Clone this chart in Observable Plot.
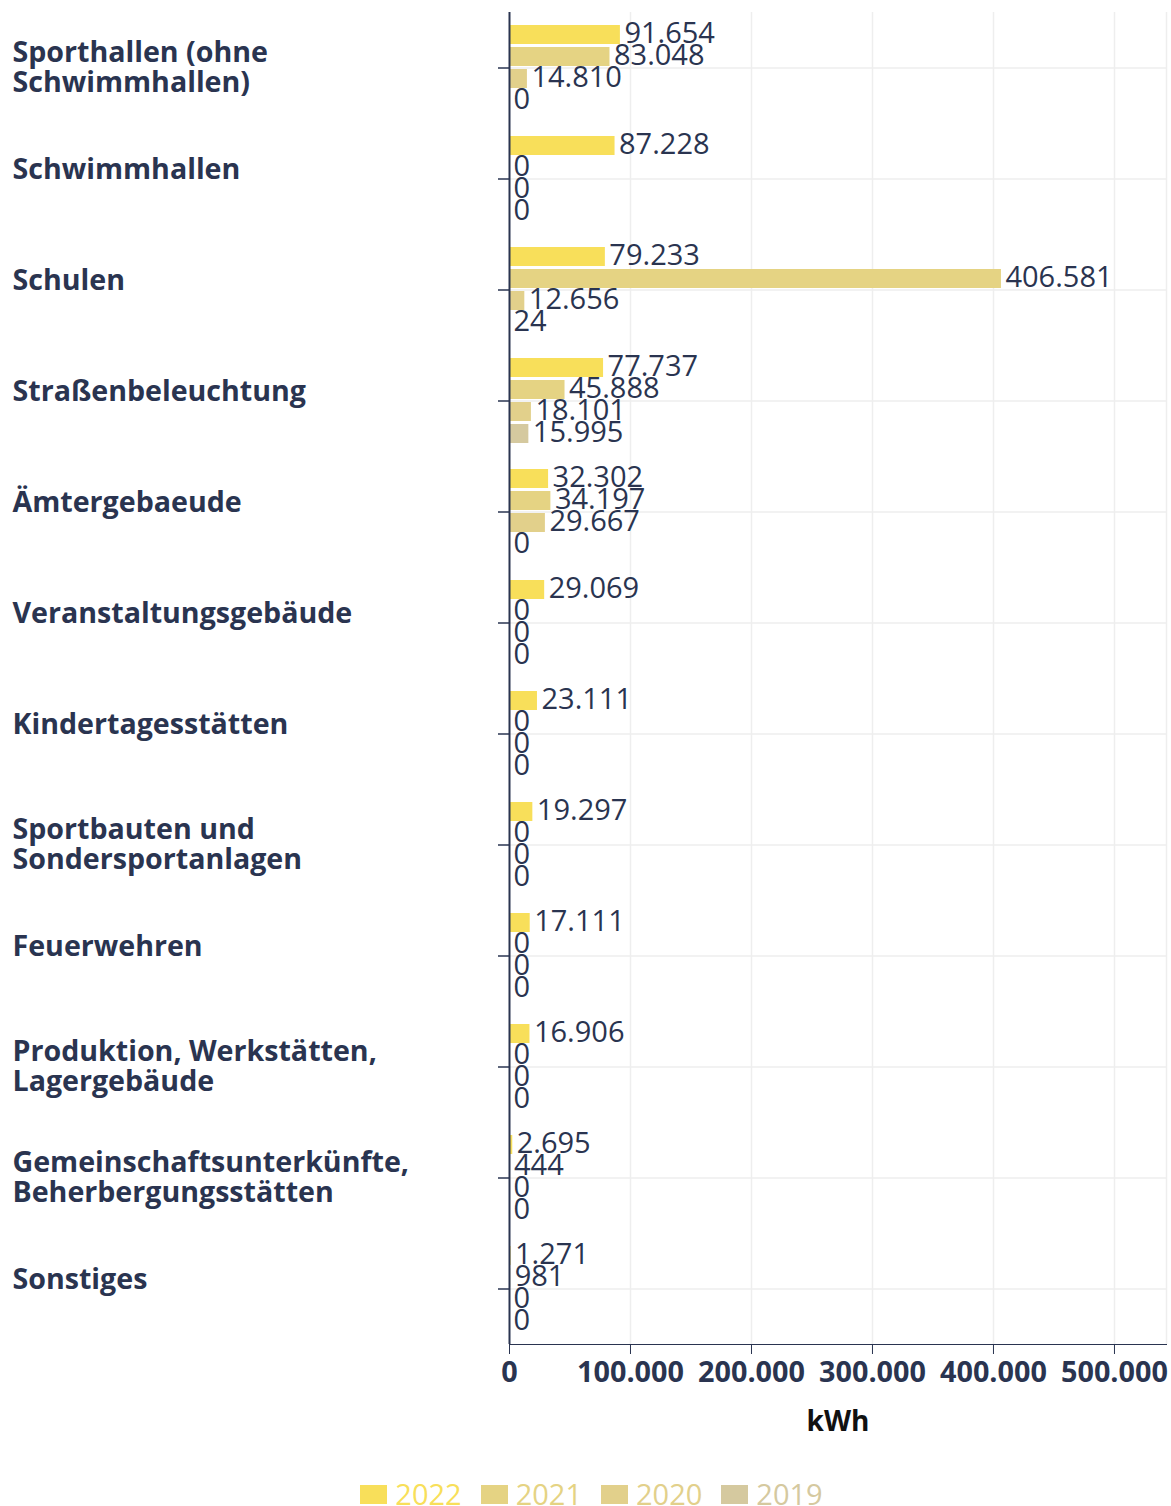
<!DOCTYPE html>
<html>
<head>
<meta charset="utf-8">
<script src="https://cdn.jsdelivr.net/npm/d3@7"></script>
<script src="https://cdn.jsdelivr.net/npm/@observablehq/plot@0.6"></script>
<style>
  html, body { margin: 0; padding: 0; background: #fff; }
  body { width: 1171px; height: 1506px; position: relative; overflow: hidden; font-family: "Open Sans", "Noto Sans", sans-serif; }
  #chart svg { font-family: "Open Sans", "Noto Sans", sans-serif; }
  #chart g[aria-label="x-axis tick label"] { font-weight: 700; font-size: 28.8px; }
  #chart g[aria-label="x-axis label"] { font-weight: 700; font-size: 28px; fill: #111; }
  #legend { position: absolute; left: 0; top: 1474px; width: 1171px; display: flex; justify-content: center; gap: 19px; padding-left: 12px; box-sizing: border-box; }
  .item { display: flex; align-items: center; gap: 8px; font-size: 29px; line-height: 40px; }
  .sw { width: 27px; height: 19px; display: inline-block; }
</style>
</head>
<body>
<div id="chart"></div>
<div id="legend"></div>
<script>
const categories = [
  "Sporthallen (ohne\nSchwimmhallen)",
  "Schwimmhallen",
  "Schulen",
  "Straßenbeleuchtung",
  "Ämtergebaeude",
  "Veranstaltungsgebäude",
  "Kindertagesstätten",
  "Sportbauten und\nSondersportanlagen",
  "Feuerwehren",
  "Produktion, Werkstätten,\nLagergebäude",
  "Gemeinschaftsunterkünfte,\nBeherbergungsstätten",
  "Sonstiges"
];
const years = ["2022", "2021", "2020", "2019"];
const values2022 = [91654, 87228, 79233, 77737, 32302, 29069, 23111, 19297, 17111, 16906, 2695, 1271];
const values2021 = [83048, 0, 406581, 45888, 34197, 0, 0, 0, 0, 0, 444, 981];
const values2020 = [14810, 0, 12656, 18101, 29667, 0, 0, 0, 0, 0, 0, 0];
const values2019 = [0, 0, 24, 15995, 0, 0, 0, 0, 0, 0, 0, 0];
const xTicks = [0, 100000, 200000, 300000, 400000, 500000];
const colors = ["#f8df5a", "#e5d383", "#e2d08b", "#d5c99f"];
const navy = "#2a3450";

const series = {"2022": values2022, "2021": values2021, "2020": values2020, "2019": values2019};
const rows = [];
categories.forEach((c, i) => years.forEach(y => rows.push({cat: c, year: y, value: series[y][i]})));

const de = d3.formatLocale({decimal: ",", thousands: ".", grouping: [3], currency: ["", " €"]});
const fmt = de.format(",d");

const singleLine = categories.filter(c => !c.includes("\n"));
const multiLine = categories.filter(c => c.includes("\n"));
const labelStyle = {frameAnchor: "left", text: d => d, textAnchor: "start", lineAnchor: "middle", dx: -497, lineHeight: 1.04, fontSize: 28.6, fontWeight: 700, fill: navy};

const chart = Plot.plot({
  width: 1171,
  height: 1470,
  marginLeft: 509,
  marginRight: 5,
  marginTop: 11,
  marginBottom: 125,
  style: {color: navy, fontFamily: "Open Sans", background: "#fff"},
  fy: {domain: categories, padding: 0, axis: null, label: null},
  y: {domain: years, paddingInner: 0.15, paddingOuter: 0.567, axis: null, label: null},
  x: {domain: [0, 543000], axis: "bottom", ticks: xTicks, tickSize: 10, tickPadding: 7, tickFormat: fmt, line: true, label: "kWh", labelArrow: "none", labelAnchor: "center", labelOffset: 86},
  color: {domain: years, range: colors},
  marks: [
    Plot.gridX(xTicks.slice(1).concat([543000]), {stroke: "#eeeeee", strokeOpacity: 1, strokeWidth: 1.5}),
    Plot.gridFy({stroke: "#eeeeee", strokeOpacity: 1, strokeWidth: 1.5, label: null}),
    Plot.axisFy({anchor: "left", tickSize: 11, tickFormat: () => "", stroke: navy, strokeWidth: 1.5, label: null}),
    Plot.barX(rows, {fy: "cat", y: "year", x: "value", fill: "year"}),
    Plot.ruleX([0], {stroke: navy, strokeWidth: 2}),
    Plot.text(rows, {fy: "cat", y: "year", x: "value", text: d => fmt(d.value), textAnchor: "start", dx: 4, dy: -1.5, fontSize: 29, fill: navy}),
    Plot.text(singleLine, {fy: d => d, dy: -10, ...labelStyle}),
    Plot.text(multiLine, {fy: d => d, dy: -0.5, ...labelStyle})
  ]
});
document.getElementById("chart").appendChild(chart);

const legend = document.getElementById("legend");
years.forEach((y, i) => {
  const it = document.createElement("div");
  it.className = "item";
  it.style.color = colors[i];
  const sw = document.createElement("span");
  sw.className = "sw";
  sw.style.background = colors[i];
  it.appendChild(sw);
  it.appendChild(document.createTextNode(y));
  legend.appendChild(it);
});
</script>
</body>
</html>
